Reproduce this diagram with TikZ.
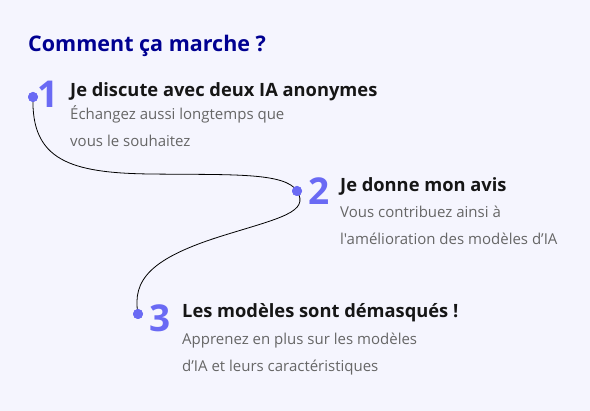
\documentclass[tikz,border=0pt]{standalone}
\usepackage{fontspec}
\setmainfont{Open Sans}[Ligatures=TeXOff]
\usetikzlibrary{positioning}
\definecolor{bgcol}{HTML}{F5F5FE}
\definecolor{titleblue}{HTML}{000091}
\definecolor{stepblue}{HTML}{6A6AF4}
\definecolor{headgrey}{HTML}{161616}
\definecolor{descgrey}{HTML}{666666}
\tikzstyle{title} = [anchor=base west, inner sep=0pt, font=\fontsize{21.5}{24}\selectfont\bfseries, text=titleblue]
\tikzstyle{dot} = [circle, fill=stepblue, minimum size=10pt, inner sep=0pt]
\tikzstyle{num} = [anchor=base west, inner sep=0pt, font=\fontsize{37}{40}\selectfont\bfseries, text=stepblue]
\tikzstyle{heading} = [anchor=base west, inner sep=0pt, text depth=1pt, font=\fontsize{18.3}{20}\selectfont\bfseries, text=headgrey]
\tikzstyle{desc} = [anchor=base west, inner sep=0pt, text height=9pt, font=\fontsize{15}{17}\selectfont, text=descgrey]
\tikzstyle{link} = [line width=0.8pt, black]

\begin{document}
\begin{tikzpicture}[x=1pt, y=-1pt]
\fill [bgcol] (0,0) rectangle (590,411);
\useasboundingbox (0,0) rectangle (590,411);
\node (title) [title] at (28,52) {Comment ça marche ?};

% step 1
\node (dot1) [dot] at (33,97) {};
\node (num1) [num] at (37,108) {1};
\node (head1) [heading] at (70,97) {Je discute avec deux IA anonymes};
\node (desc1a) [desc] at (70,120) {Échangez aussi longtemps que};
\node (desc1b) [desc] at (70,147) {vous le souhaitez};

% step 2
\node (dot2) [dot] at (297,191) {};
\node (num2) [num] at (308,205) {2};
\node (head2) [heading] at (340,192) {Je donne mon avis};
\node (desc2a) [desc] at (340,218) {Vous contribuez ainsi à};
\node (desc2b) [desc] at (340,245) {l'amélioration des modèles d’IA};

% step 3
\node (dot3) [dot] at (138,314) {};
\node (num3) [num] at (149,332) {3};
\node (head3) [heading] at (182,318) {Les modèles sont démasqués !};
\node (desc3a) [desc] at (182,345) {Apprenez en plus sur les modèles};
\node (desc3b) [desc] at (182,372) {d’IA et leurs caractéristiques};

% connectors, dots drawn again on top
\draw [link] (dot1.center) .. controls (31,160) and (70,173) .. (150,174)
  .. controls (230,175) and (285,172) .. (dot2.center);
\draw [link] (dot2.center) .. controls (310,212) and (280,218) .. (225,235)
  .. controls (150,258) and (132,280) .. (dot3.center);
\node [dot] at (dot1) {};
\node [dot] at (dot2) {};
\node [dot] at (dot3) {};
\end{tikzpicture}
\end{document}
